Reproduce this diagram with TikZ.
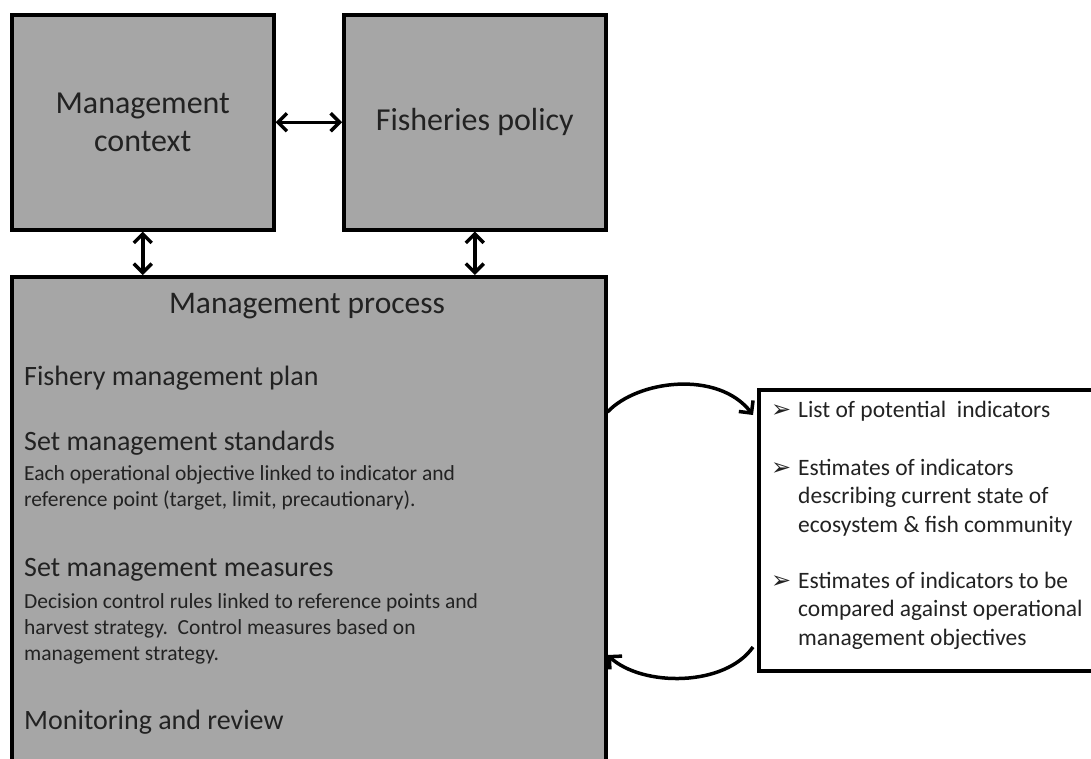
\documentclass[tikz,border=0pt]{standalone}
\usepackage{fontspec}
\setmainfont{Carlito}
\newfontfamily\dingfont{DejaVu Sans}
\usetikzlibrary{arrows.meta, positioning}
\definecolor{boxgray}{HTML}{A6A6A6}
\definecolor{inkgray}{HTML}{222222}
\newcommand{\pointer}{\llap{{\dingfont\fontsize{24}{24}\selectfont ➢}\hspace{7pt}}}

\begin{document}
\begin{tikzpicture}[
    x=1pt, y=-1pt,
    greybox/.style={rectangle, draw=black, line width=3.5pt, fill=boxgray, anchor=north west, align=center, text=inkgray, font=\fontsize{32}{38}\selectfont},
    listbox/.style={rectangle, draw=black, line width=3.5pt, fill=white, anchor=north west},
    both/.style={{Straight Barb[length=9pt,width=18pt]}-{Straight Barb[length=9pt,width=18pt]}, line width=3.5pt},
    curvy/.style={-{Straight Barb[length=9pt,width=18pt]}, line width=3.5pt},
    title/.style={anchor=base, inner sep=0pt, text=inkgray, font=\fontsize{31.5}{38}\selectfont},
    stage/.style={anchor=base west, inner sep=0pt, text=inkgray, font=\fontsize{28}{32}\selectfont},
    note/.style={anchor=base west, inner sep=0pt, align=left, text=inkgray, font=\fontsize{21.5}{26}\selectfont},
    item/.style={anchor=base west, inner sep=0pt, align=left, text=inkgray, font=\fontsize{23.5}{28.5}\selectfont}
]
    \useasboundingbox (0,0) rectangle (1091,758);
    \clip (0,0) rectangle (1091,758);

    % Upper boxes
    \node[greybox, minimum width=262pt, minimum height=215pt] (context) at (10,13) {Management\\context};
    \node[greybox, minimum width=262pt, minimum height=215pt] (policy) at (342,13) {Fisheries policy};

    % Management process box (runs off the bottom)
    \node[greybox, minimum width=594pt, minimum height=560pt] (process) at (10,275) {};
    \node[title] (proctitle) at (307,313) {Management process};
    \node[stage] (plan) at (24,385) {Fishery management plan};
    \node[stage] (standards) at (24,450) {Set management standards};
    % multi-line nodes sit on their last baseline
    \node[note] (standardsnote) at (24,506) {Each operational objective linked to indicator and\\reference point (target, limit, precautionary).};
    \node[stage] (measures) at (24,576) {Set management measures};
    \node[note] (measuresnote) at (24,660) {Decision control rules linked to reference points and\\harvest strategy.\ \ Control measures based on\\management strategy.};
    \node[stage] (monitoring) at (24,729) {Monitoring and review};

    % Indicator list
    \node[listbox, minimum width=345pt, minimum height=281pt] (indicators) at (757,388) {};
    \node[item] (potential) at (798,417) {\pointer List of potential\ \ indicators};
    \node[item] (current) at (798,532) {\pointer Estimates of indicators\\describing current\ state of\\ecosystem \& fish community};
    \node[item] (compared) at (798,645) {\pointer Estimates of indicators to be\\compared\ against operational\\management\ objectives};

    % Arrows
    \draw[both] (context) -- (policy);
    \draw[both] (context) -- (context |- process.north);
    \draw[both] (policy) -- (policy |- process.north);
    \draw[curvy] ([yshift=-137pt]process.north east) .. controls +(30,-32) and +(-35,-45) .. ([xshift=-4pt,yshift=-27pt]indicators.north west);
    \draw[curvy] ([xshift=-4pt,yshift=-259pt]indicators.north west) .. controls +(-28,40) and +(35,32) .. ([yshift=-380pt]process.north east);
\end{tikzpicture}
\end{document}
